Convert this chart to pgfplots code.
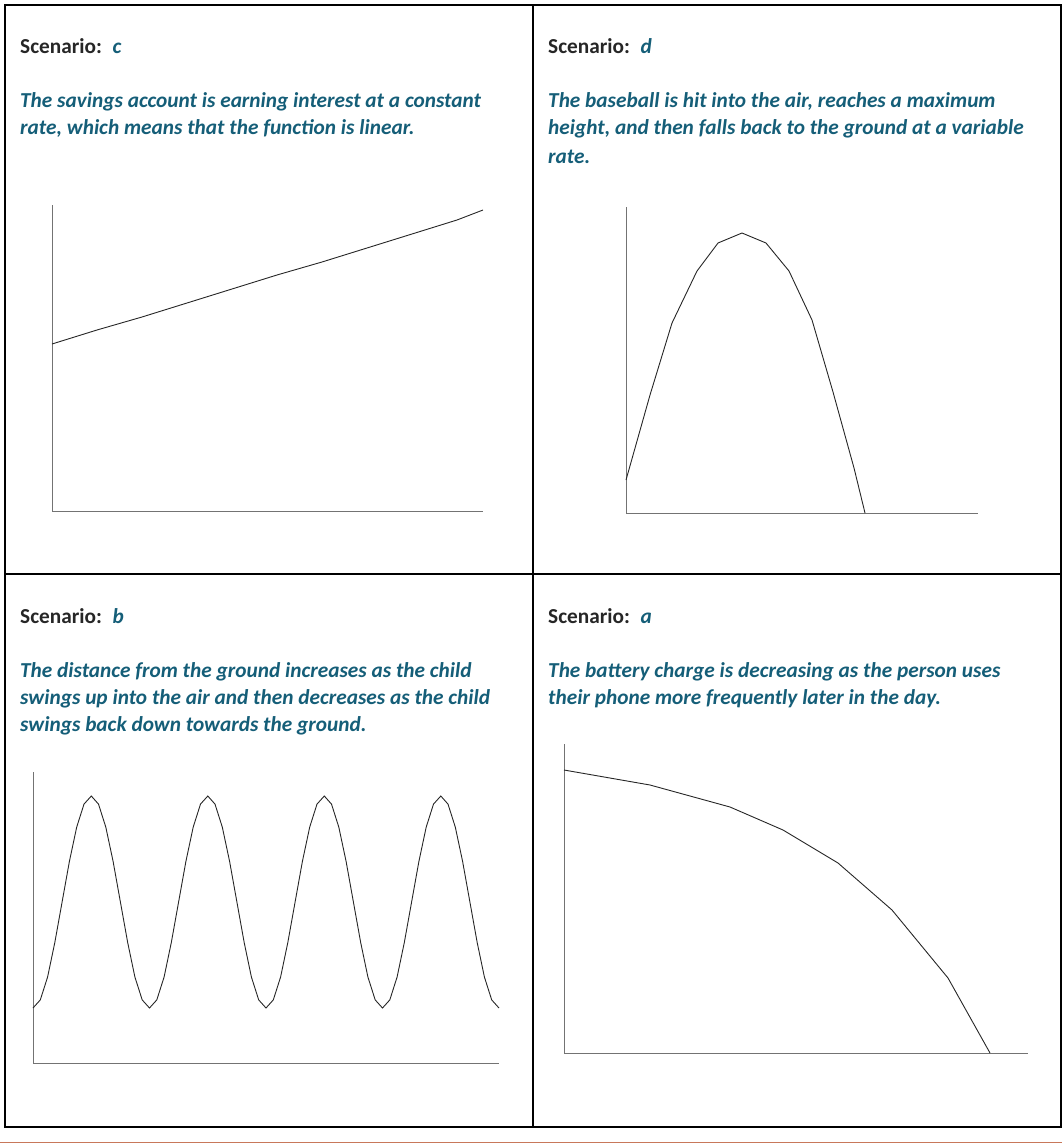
\documentclass[border=0pt]{standalone}
\usepackage{pgfplots}
\pgfplotsset{compat=1.18}
\usepackage{fontspec}
\setmainfont{Carlito}
\definecolor{scen}{RGB}{21,94,120}
\definecolor{lbl}{RGB}{38,38,38}
\definecolor{rule}{RGB}{200,120,90}
\pgfplotsset{sk/.style={scale only axis, anchor=south west,
  axis x line=bottom, axis y line=left,
  axis line style={-, draw=black!55, line width=1pt},
  xtick=\empty, ytick=\empty, clip=false}}
\tikzset{crv/.style={draw=black!85, line width=0.9pt},
  txt/.style={anchor=base west, inner sep=0pt, font=\fontsize{21.3}{26}\selectfont\bfseries}}
\newcommand{\scen}[1]{\textcolor{lbl}{Scenario:}\hspace{0.5em}\textcolor{scen}{\itshape #1}}
\newcommand{\desc}[1]{\textcolor{scen}{\itshape #1}}
\begin{document}
\begin{tikzpicture}
\path[use as bounding box] (0pt,0pt) rectangle (1062pt,-1145pt);
% table
\draw[line width=2pt] (5pt,-5pt) rectangle (1061pt,-1127pt);
\draw[line width=2pt] (533pt,-5pt) -- (533pt,-1127pt);
\draw[line width=2pt] (5pt,-574pt) -- (1061pt,-574pt);
\draw[rule, line width=1pt] (0pt,-1142pt) -- (1062pt,-1142pt);
% texts
\node[txt] at (20pt,-54pt) {\scen{c}};
\node[txt] at (20pt,-108pt) {\desc{The savings account is earning interest at a constant}};
\node[txt] at (20pt,-135pt) {\desc{rate, which means that the function is linear.}};
\node[txt] at (548pt,-54pt) {\scen{d}};
\node[txt] at (548pt,-108pt) {\desc{The baseball is hit into the air, reaches a maximum}};
\node[txt] at (548pt,-135pt) {\desc{height, and then falls back to the ground at a variable}};
\node[txt] at (548pt,-163pt) {\desc{rate.}};
\node[txt] at (20pt,-623pt) {\scen{b}};
\node[txt] at (20pt,-677pt) {\desc{The distance from the ground increases as the child}};
\node[txt] at (20pt,-704pt) {\desc{swings up into the air and then decreases as the child}};
\node[txt] at (20pt,-731pt) {\desc{swings back down towards the ground.}};
\node[txt] at (548pt,-623pt) {\scen{a}};
\node[txt] at (548pt,-677pt) {\desc{The battery charge is decreasing as the person uses}};
\node[txt] at (548pt,-704pt) {\desc{their phone more frequently later in the day.}};
% c: linear
\begin{axis}[sk, at={(52pt,-511pt)}, width=431pt, height=306pt,
  xmin=0, xmax=431, ymin=0, ymax=306]
\addplot[crv] coordinates {(0,167) (45,181) (90,194) (135,208) (180,222) (225,236) (270,249) (315,263) (360,277) (405,291) (431,301)};
\end{axis}
% d: parabola
\begin{axis}[sk, at={(626pt,-513pt)}, width=352pt, height=306pt,
  xmin=0, xmax=352, ymin=0, ymax=306]
\addplot[crv] coordinates {(0,33) (24,118) (46,190) (71,242) (92,270) (116,280) (140,270) (163,242) (186,193) (207,121) (228,45) (239,0)};
\end{axis}
% b: periodic
\begin{axis}[sk, at={(33pt,-1063pt)}, width=466pt, height=291pt,
  xmin=0, xmax=466, ymin=0, ymax=291]
\addplot[crv] coordinates {
(0,55) (7.3,63.1) (14.6,86.0) (21.8,120.4) (29.1,161) (36.4,201.6) (43.7,235.9) (51.0,258.9)
(58.3,267) (65.5,258.9) (72.8,235.9) (80.1,201.6) (87.4,161) (94.7,120.4) (101.9,86.0) (109.2,63.1)
(116.5,55) (123.8,63.1) (131.1,86.0) (138.3,120.4) (145.6,161) (152.9,201.6) (160.2,235.9) (167.5,258.9)
(174.8,267) (182.0,258.9) (189.3,235.9) (196.6,201.6) (203.9,161) (211.2,120.4) (218.4,86.0) (225.7,63.1)
(233,55) (240.3,63.1) (247.6,86.0) (254.8,120.4) (262.1,161) (269.4,201.6) (276.7,235.9) (284.0,258.9)
(291.3,267) (298.5,258.9) (305.8,235.9) (313.1,201.6) (320.4,161) (327.7,120.4) (334.9,86.0) (342.2,63.1)
(349.5,55) (356.8,63.1) (364.1,86.0) (371.3,120.4) (378.6,161) (385.9,201.6) (393.2,235.9) (400.5,258.9)
(407.8,267) (415.0,258.9) (422.3,235.9) (429.6,201.6) (436.9,161) (444.2,120.4) (451.4,86.0) (458.7,63.1)
(466,55)};
\end{axis}
% a: decreasing
\begin{axis}[sk, at={(564pt,-1053pt)}, width=464pt, height=309pt,
  xmin=0, xmax=464, ymin=0, ymax=309]
\addplot[crv] coordinates {(0,283) (86,268) (166,246) (219,223) (274,190) (328,143) (384,75) (426,0)};
\end{axis}
\end{tikzpicture}
\end{document}
